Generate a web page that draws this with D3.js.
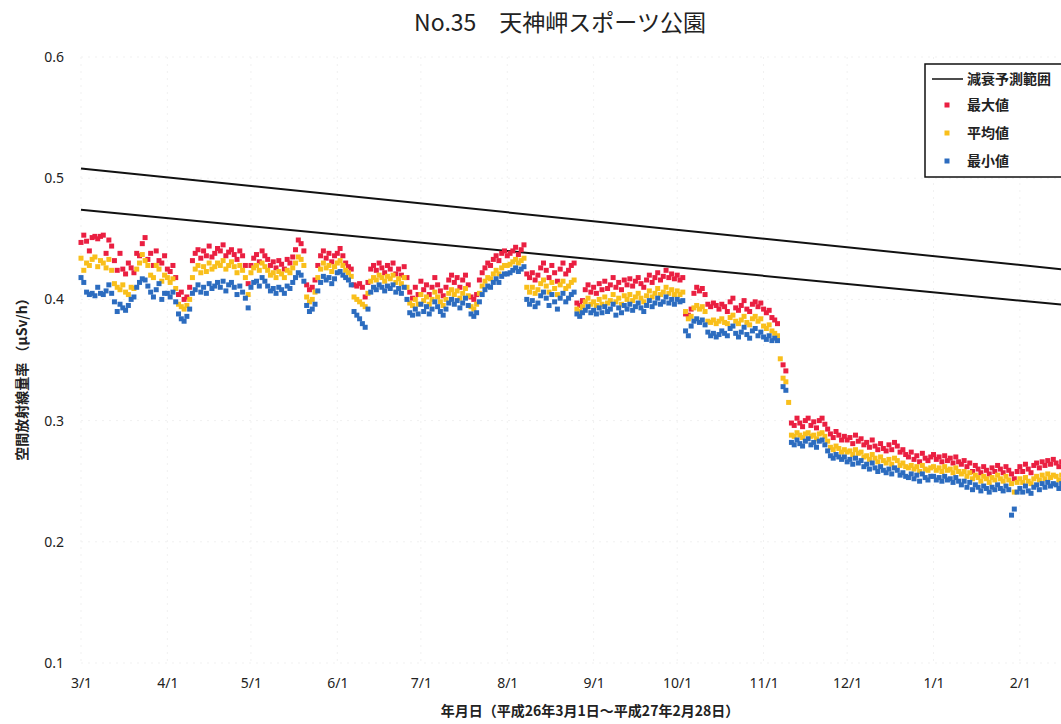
<!DOCTYPE html>
<html>
<head>
<meta charset="utf-8">
<script src="https://cdn.jsdelivr.net/npm/d3@7"></script>
<style>
  body { margin: 0; background: #fff; }
  svg { display: block; font-family: "Noto Sans CJK JP", "Noto Sans", sans-serif; }
</style>
</head>
<body>
<svg id="chart" width="1061" height="724"></svg>
<script>
// daily values (µSv/h), one inner array per month, Mar 2014 .. Feb 2015
const maxByMonth = [
  [.447,.453,.448,.440,.451,.452,.450,.452,.453,.438,.449,.444,.432,.424,.438,.425,.421,.430,.426,.422,.438,.436,.446,.451,.433,.438,.428,.440,.432,.430,.436],
  [.425,.423,.428,.418,.404,.406,.400,.402,.410,.432,.438,.441,.434,.440,.436,.444,.435,.438,.442,.440,.445,.436,.439,.441,.437,.433,.440,.436,.428,.413],
  [.428,.434,.437,.431,.440,.436,.433,.428,.431,.426,.432,.429,.425,.433,.430,.435,.441,.449,.446,.440,.412,.408,.410,.416,.428,.436,.440,.434,.438,.431,.436],
  [.438,.442,.436,.430,.427,.425,.412,.411,.413,.410,.402,.414,.425,.428,.424,.430,.426,.422,.428,.425,.430,.421,.425,.420,.427,.418,.406,.401,.410,.404],
  [.415,.408,.412,.404,.410,.418,.412,.407,.403,.410,.416,.420,.414,.418,.410,.416,.420,.412,.402,.400,.404,.416,.422,.426,.430,.428,.433,.436,.432,.438,.440],
  [.436,.438,.440,.443,.437,.441,.445,.421,.418,.422,.416,.420,.426,.430,.424,.418,.428,.422,.415,.425,.430,.421,.424,.428,.430,.397,.395,.399,.408,.412,.406],
  [.410,.405,.413,.408,.415,.409,.412,.418,.410,.414,.408,.416,.412,.417,.411,.415,.418,.413,.410,.416,.420,.414,.418,.422,.416,.419,.424,.418,.421,.417],
  [.420,.416,.418,.388,.387,.392,.405,.410,.407,.409,.404,.396,.394,.397,.395,.392,.396,.394,.390,.398,.401,.393,.391,.395,.399,.392,.390,.396,.398,.394,.397],
  [.392,.389,.391,.385,.383,.380,null,.346,.341,null,.298,.296,.302,.298,.295,.300,.302,.296,.299,.294,.300,.302,.297,.293,.289,.286,.291,.288,.284,.287],
  [.284,.286,.281,.288,.283,.285,.280,.282,.278,.284,.279,.276,.281,.277,.275,.280,.276,.282,.279,.274,.276,.272,.270,.274,.268,.271,.266,.273,.269,.267,.270],
  [.272,.268,.270,.266,.271,.267,.269,.265,.270,.266,.264,.267,.262,.265,.258,.263,.260,.257,.262,.259,.256,.261,.258,.263,.260,.257,.262,.259,.256,.252,.258],
  [.262,.258,.264,.260,.257,.263,.265,.261,.266,.263,.267,.264,.268,.265,.262,.266,.264,.261,.265,.262,.260,.264,.261,.259,.263,.260,.262,.258]
];
const avgByMonth = [
  [.434,.424,.430,.428,.433,.435,.427,.432,.430,.426,.433,.424,.413,.410,.408,.412,.406,.404,.410,.409,.425,.430,.437,.432,.428,.420,.418,.428,.425,.415,.420],
  [.418,.414,.417,.409,.396,.394,.392,.395,.400,.418,.425,.428,.422,.427,.423,.430,.425,.427,.430,.428,.432,.425,.428,.431,.427,.422,.428,.424,.418,.404],
  [.422,.426,.428,.424,.430,.427,.424,.420,.422,.418,.423,.421,.418,.424,.422,.426,.430,.435,.433,.428,.402,.398,.400,.406,.418,.425,.430,.426,.428,.423,.427],
  [.430,.432,.428,.424,.422,.419,.402,.400,.398,.396,.394,.405,.415,.418,.416,.420,.418,.415,.419,.417,.420,.414,.417,.413,.418,.410,.397,.395,.400,.396],
  [.404,.399,.402,.396,.400,.406,.402,.398,.395,.400,.405,.408,.404,.407,.401,.405,.409,.403,.394,.392,.396,.405,.411,.415,.418,.417,.421,.424,.421,.426,.428],
  [.428,.429,.431,.433,.430,.432,.434,.410,.406,.410,.405,.408,.413,.416,.411,.406,.414,.409,.404,.412,.415,.409,.411,.414,.416,.392,.390,.394,.398,.401,.396],
  [.398,.395,.400,.396,.402,.397,.399,.404,.398,.401,.396,.403,.400,.404,.399,.402,.405,.401,.398,.403,.407,.402,.405,.409,.404,.406,.410,.405,.408,.404],
  [.407,.404,.406,.390,.384,.386,.393,.395,.392,.394,.390,.382,.381,.383,.380,.382,.384,.381,.380,.385,.387,.382,.380,.383,.386,.381,.379,.384,.386,.382,.384],
  [.378,.376,.379,.374,.372,.370,.351,.335,.332,.315,.288,.287,.290,.288,.286,.289,.290,.287,.288,.285,.289,.290,.287,.283,.278,.276,.279,.277,.274,.276],
  [.274,.275,.272,.276,.273,.274,.270,.271,.268,.272,.269,.266,.270,.267,.265,.268,.264,.269,.267,.263,.265,.262,.261,.263,.260,.262,.258,.263,.260,.259,.261],
  [.262,.259,.261,.258,.262,.259,.260,.257,.261,.258,.256,.258,.254,.257,.252,.255,.253,.250,.254,.252,.249,.253,.251,.255,.252,.250,.254,.251,.248,.241,.249],
  [.252,.249,.253,.250,.248,.252,.254,.251,.255,.252,.256,.253,.255,.254,.251,.255,.253,.250,.254,.251,.249,.253,.250,.248,.252,.249,.251,.248]
];
const minByMonth = [
  [.418,.414,.406,.404,.405,.403,.410,.405,.404,.407,.412,.405,.398,.390,.396,.393,.391,.395,.400,.402,.410,.414,.417,.416,.411,.406,.402,.408,.413,.400,.405],
  [.405,.402,.406,.398,.388,.384,.382,.386,.392,.405,.408,.412,.406,.410,.405,.413,.409,.411,.414,.410,.415,.407,.412,.414,.410,.404,.411,.406,.401,.393],
  [.410,.414,.415,.411,.418,.415,.411,.407,.409,.405,.410,.408,.405,.411,.409,.414,.418,.422,.420,.415,.395,.390,.392,.396,.407,.414,.419,.416,.418,.413,.417],
  [.422,.423,.420,.418,.416,.412,.390,.387,.384,.380,.377,.392,.406,.410,.408,.412,.410,.407,.411,.409,.412,.406,.409,.405,.410,.400,.389,.387,.392,.388],
  [.396,.390,.394,.388,.392,.398,.394,.390,.387,.392,.397,.400,.396,.399,.393,.397,.401,.395,.388,.386,.389,.398,.404,.408,.411,.410,.414,.417,.414,.419,.421],
  [.421,.422,.424,.426,.423,.425,.427,.400,.396,.399,.394,.397,.403,.406,.401,.395,.404,.398,.392,.401,.405,.398,.401,.404,.406,.388,.386,.389,.391,.394,.389],
  [.391,.388,.393,.389,.394,.390,.392,.396,.387,.393,.389,.395,.392,.396,.391,.394,.397,.393,.390,.395,.399,.394,.397,.401,.396,.398,.402,.397,.400,.396],
  [.400,.398,.399,.374,.370,.378,.382,.384,.381,.383,.379,.373,.370,.372,.369,.371,.374,.372,.370,.376,.378,.372,.369,.373,.377,.371,.368,.374,.376,.370,.373],
  [.369,.367,.370,.366,.368,.366,null,.328,.325,null,.282,.280,.284,.281,.279,.283,.285,.280,.282,.278,.283,.284,.280,.275,.271,.269,.272,.270,.268,.270],
  [.266,.268,.264,.269,.265,.267,.262,.264,.260,.265,.261,.258,.262,.259,.257,.260,.256,.261,.259,.255,.257,.254,.253,.256,.252,.255,.250,.256,.253,.251,.254],
  [.254,.251,.253,.250,.254,.251,.252,.249,.253,.250,.247,.250,.245,.249,.243,.247,.245,.242,.246,.244,.241,.245,.243,.247,.244,.242,.246,.243,.222,.227,.241],
  [.244,.241,.246,.242,.240,.245,.247,.243,.248,.245,.249,.246,.248,.247,.244,.248,.246,.243,.247,.244,.242,.246,.243,.241,.245,.242,.244,.241]
];

// decay prediction band: [value at 2014-03-01, value at 2015-02-28]
const decayUpper = [0.508, 0.422];
const decayLower = [0.474, 0.393];

const yTicks = [0.1, 0.2, 0.3, 0.4, 0.5, 0.6];
const monthTicks = ['3/1','4/1','5/1','6/1','7/1','8/1','9/1','10/1','11/1','12/1','1/1','2/1'];

const series = [
  { name: '最大値', data: maxByMonth, color: '#ea1f41' },
  { name: '平均値', data: avgByMonth, color: '#f9bf1b' },
  { name: '最小値', data: minByMonth, color: '#2c6cbf' }
];

const startDate = new Date(2014, 2, 1);
const endDate = new Date(2015, 1, 28);

const svg = d3.select('#chart');

const x = d3.scaleTime().domain([startDate, endDate]).range([81, 81 + 364 * 2.786]);
const y = d3.scaleLinear().domain([0.1, 0.6]).range([663, 57]);

// very faint dotted grid
const grid = svg.append('g').attr('class', 'grid');
grid.selectAll('.hgrid').data(yTicks).join('line')
  .attr('x1', x(startDate)).attr('x2', x(endDate))
  .attr('y1', d => y(d)).attr('y2', d => y(d))
  .attr('stroke', '#f1f1f1').attr('stroke-dasharray', '2,5');
const tickDates = monthTicks.map((t, i) => new Date(2014, 2 + i, 1));
grid.selectAll('.vgrid').data(tickDates).join('line')
  .attr('x1', d => x(d)).attr('x2', d => x(d))
  .attr('y1', y(0.6)).attr('y2', y(0.1))
  .attr('stroke', '#f1f1f1').attr('stroke-dasharray', '2,5');

// axes (labels only, no axis lines)
const yAxisG = svg.append('g').attr('transform', 'translate(67,0)')
  .call(d3.axisLeft(y).tickValues(yTicks).tickFormat(d3.format('.1f')).tickSize(0));
yAxisG.select('.domain').remove();
yAxisG.selectAll('text').attr('font-size', 14).attr('fill', '#222')
  .attr('font-family', '"Noto Sans", sans-serif').attr('dx', 0);

const xAxisG = svg.append('g').attr('transform', 'translate(0,675)')
  .call(d3.axisBottom(x).tickValues(tickDates).tickFormat((d, i) => monthTicks[i]).tickSize(0));
xAxisG.select('.domain').remove();
xAxisG.selectAll('text').attr('font-size', 14).attr('fill', '#222')
  .attr('font-family', '"Noto Sans", sans-serif');

// decay band lines
[decayUpper, decayLower].forEach(v => {
  svg.append('line')
    .attr('x1', x(startDate)).attr('y1', y(v[0]))
    .attr('x2', x(endDate)).attr('y2', y(v[1]))
    .attr('stroke', '#111').attr('stroke-width', 2);
});

// daily markers
const ms = 5;
series.forEach(s => {
  const pts = [];
  s.data.forEach((month, m) => month.forEach((v, i) => {
    if (v != null) pts.push({ date: new Date(2014, 2 + m, i + 1), value: v });
  }));
  svg.append('g').selectAll('rect').data(pts).join('rect')
    .attr('x', d => x(d.date) - ms / 2)
    .attr('y', d => y(d.value) - ms / 2)
    .attr('width', ms).attr('height', ms)
    .attr('fill', s.color);
});

// title
svg.append('text').attr('x', 560).attr('y', 31).attr('text-anchor', 'middle')
  .attr('font-size', 23).attr('fill', '#222').text('No.35　天神岬スポーツ公園');

// axis titles
svg.append('text').attr('x', 590).attr('y', 716).attr('text-anchor', 'middle')
  .attr('font-size', 14).attr('font-weight', 'bold').attr('fill', '#222')
  .text('年月日（平成26年3月1日～平成27年2月28日）');
svg.append('text').attr('transform', 'translate(27,376) rotate(-90)')
  .attr('text-anchor', 'middle').attr('font-size', 14).attr('font-weight', 'bold').attr('fill', '#222')
  .text('空間放射線量率 （μSv/h）');

// legend
const lg = svg.append('g').attr('transform', 'translate(925,64)');
lg.append('rect').attr('width', 150).attr('height', 113)
  .attr('fill', '#fff').attr('stroke', '#111').attr('stroke-width', 1.5);
lg.append('line').attr('x1', 7).attr('x2', 38).attr('y1', 15).attr('y2', 15)
  .attr('stroke', '#111').attr('stroke-width', 1.5);
lg.append('text').attr('x', 42).attr('y', 20).attr('font-size', 14).attr('font-weight', 'bold')
  .attr('fill', '#222').text('減衰予測範囲');
series.forEach((s, i) => {
  const cy = 41 + i * 28;
  lg.append('rect').attr('x', 22 - 2.5).attr('y', cy - 2.5).attr('width', 5).attr('height', 5).attr('fill', s.color);
  lg.append('text').attr('x', 42).attr('y', cy + 5).attr('font-size', 14).attr('font-weight', 'bold')
    .attr('fill', '#222').text(s.name);
});
</script>
</body>
</html>
